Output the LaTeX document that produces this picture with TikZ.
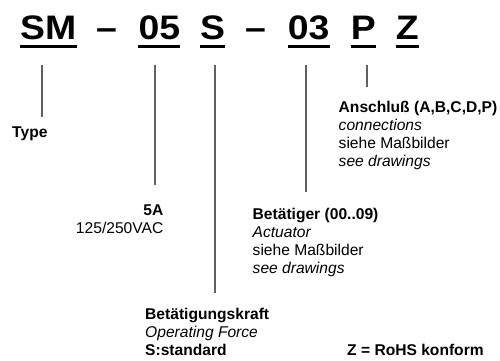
\documentclass[tikz,border=0pt]{standalone}
\usepackage{fontspec}
\setmainfont{Liberation Sans}
\newfontfamily\titlefont[FakeStretch=1.1]{Liberation Sans}
\begin{document}
\begin{tikzpicture}[x=1pt,y=-1pt,
  tok/.style={inner sep=0pt,anchor=base west,font=\titlefont\fontsize{34}{38}\selectfont\bfseries},
  lbl/.style={inner sep=0pt,align=left,font=\fontsize{15.6}{18}\selectfont},
  lead/.style={draw=black!62,line width=2pt},
  uline/.style={line width=3pt,black}]
\useasboundingbox (0,0) rectangle (500,360);
% title tokens
\node[tok] (sm) at (20,39.5) {SM};
\node[tok] (d1) at (96,39.5) {–};
\node[tok] (n05) at (138.3,39.5) {05};
\node[tok] (s) at (200,39.5) {S};
\node[tok] (d2) at (245,39.5) {–};
\node[tok] (n03) at (287.7,39.5) {03};
\node[tok] (p) at (350.7,39.5) {P};
\node[tok] (z) at (395.7,39.5) {Z};
\foreach \t in {sm,n05,s,n03,p,z}
  \draw[uline] ([yshift=-6.5pt]\t.base west) -- ([yshift=-6.5pt]\t.base east);
% labels (base anchor = baseline of the last line)
\node[lbl,anchor=base west] (type) at (12,137) {\textbf{Type}};
\node[lbl,anchor=base east,align=right] (amp) at (163.5,233) {\textbf{5A}\\125/250VAC};
\node[lbl,anchor=base west] (act) at (252.5,273) {\textbf{Betätiger (00..09)}\\\textit{Actuator}\\siehe Maßbilder\\\textit{see drawings}};
\node[lbl,anchor=base west] (conn) at (338.5,166) {\textbf{Anschluß (A,B,C,D,P)}\\\textit{connections}\\siehe Maßbilder\\\textit{see drawings}};
\node[lbl,anchor=base west] (force) at (145,355) {\textbf{Betätigungskraft}\\\textit{Operating Force}\\\textbf{S:standard}};
\node[lbl,anchor=base west] (rohs) at (347,355) {\textbf{Z = RoHS konform}};
% leader lines
\coordinate (a1) at (41.5,65);  \coordinate (b1) at (41.5,117);
\coordinate (a2) at (154.5,65); \coordinate (b2) at (154.5,185);
\coordinate (a3) at (215,65);   \coordinate (b3) at (215,293);
\coordinate (a4) at (306,65);   \coordinate (b4) at (306,192);
\coordinate (a5) at (366.7,65); \coordinate (b5) at (366.7,86.5);
\draw[lead] (a1) -- (b1);
\draw[lead] (a2) -- (b2);
\draw[lead] (a3) -- (b3);
\draw[lead] (a4) -- (b4);
\draw[lead] (a5) -- (b5);
\end{tikzpicture}
\end{document}
